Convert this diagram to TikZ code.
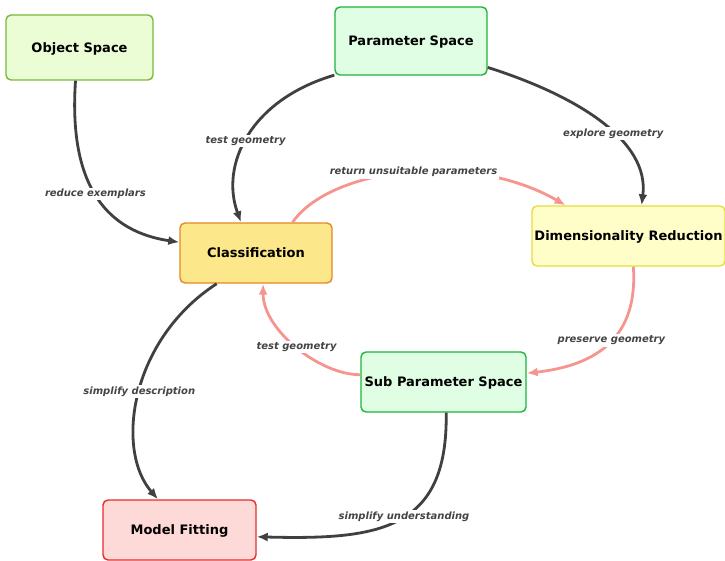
\documentclass[tikz,border=0pt]{standalone}
\usepackage{fontspec}
\setmainfont{DejaVu Sans}
\usetikzlibrary{arrows.meta,calc}
\definecolor{edgedark}{HTML}{404040}
\definecolor{edgepink}{HTML}{F6958F}
\definecolor{lbltext}{HTML}{444444}
\definecolor{osfill}{HTML}{EAFDD5}\definecolor{osdraw}{HTML}{7AB83C}
\definecolor{psfill}{HTML}{DFFEE3}\definecolor{psdraw}{HTML}{1EB33A}
\definecolor{clfill}{HTML}{FCE78A}\definecolor{cldraw}{HTML}{E38A27}
\definecolor{drfill}{HTML}{FFFEC8}\definecolor{drdraw}{HTML}{E6DE3C}
\definecolor{mffill}{HTML}{FDDAD8}\definecolor{mfdraw}{HTML}{E52D2D}
\tikzset{
  box/.style={rectangle, rounded corners=5pt, line width=1.4pt, font=\fontsize{13}{15}\selectfont\bfseries, inner sep=0pt, text height=9.5pt, text depth=0pt},
  darkedge/.style={draw=edgedark, line width=2.8pt, -{Latex[length=11pt,width=9pt]}},
  pinkedge/.style={draw=edgepink, line width=2.8pt, -{Latex[length=11pt,width=9pt]}},
  lbl/.style={fill=white, inner sep=1.5pt, text=lbltext, font=\fontsize{10}{12}\selectfont\bfseries\itshape}
}
\begin{document}
\begin{tikzpicture}[x=1pt,y=-1pt]
\useasboundingbox (0,0) rectangle (725,561);
\node[box, fill=osfill, draw=osdraw, minimum width=147pt, minimum height=65pt] (os) at (79.5,47.5) {Object Space};
\node[box, fill=psfill, draw=psdraw, minimum width=152pt, minimum height=68pt] (ps) at (411,41) {Parameter Space};
\node[box, fill=clfill, draw=cldraw, minimum width=152pt, minimum height=60pt] (cl) at (256,253) {Classification};
\node[box, fill=drfill, draw=drdraw, minimum width=193pt, minimum height=60pt] (dr) at (628.5,236) {Dimensionality Reduction};
\node[box, fill=psfill, draw=psdraw, minimum width=165pt, minimum height=60pt] (sp) at (443.5,382) {Sub Parameter Space};
\node[box, fill=mffill, draw=mfdraw, minimum width=153pt, minimum height=60pt] (mf) at (179.5,530) {Model Fitting};

\draw[darkedge] ($(os.south)+(-4,0)$) .. controls (68,190) and (110,232) .. (cl.172)
  node[lbl, pos=0.47] (l1) {reduce exemplars};
\draw[darkedge] (ps.204) .. controls (250,100) and (220,165) .. (cl.116)
  node[lbl, pos=0.53] (l2) {test geometry};
\draw[darkedge] (ps.-19) .. controls (575,95) and (650,140) .. (dr.67)
  node[lbl, pos=0.58] (l3) {explore geometry};
\draw[pinkedge] (cl.40) .. controls (330,168) and (470,150) .. (dr.154)
  node[lbl, pos=0.52] (l4) {return unsuitable parameters};
\draw[pinkedge] (dr.-81) .. controls (638,335) and (600,365) .. (sp.6)
  node[lbl, pos=0.48] (l5) {preserve geometry};
\draw[pinkedge] (sp.175) .. controls (320,375) and (263,330) .. (cl.-77)
  node[lbl, pos=0.5] (l6) {test geometry};
\draw[darkedge] (cl.-142) .. controls (130,340) and (115,450) .. (mf.125)
  node[lbl, pos=0.49] (l7) {simplify description};
\draw[darkedge] (sp.-85) .. controls (448,530) and (380,540) .. (mf.-5)
  node[lbl, pos=0.47] (l8) {simplify understanding};
\end{tikzpicture}
\end{document}
